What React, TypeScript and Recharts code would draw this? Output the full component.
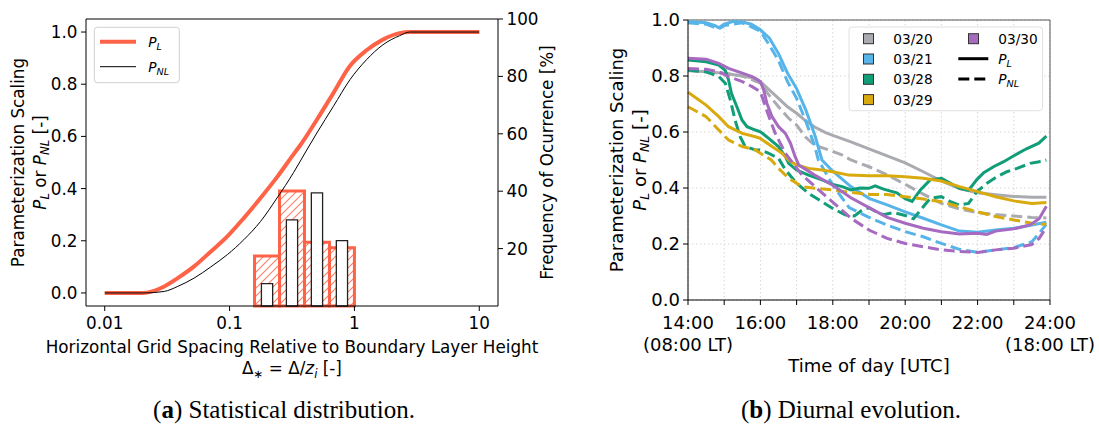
import React from "react";
import {
  ComposedChart,
  LineChart,
  Line,
  XAxis,
  YAxis,
  ReferenceArea,
  ReferenceLine,
  CartesianGrid,
} from "recharts";

// ---------- panel (a): scaling vs. normalised grid spacing ----------
const deltaStar = [0.01, 0.02, 0.03, 0.0384, 0.052, 0.0708, 0.096, 0.13, 0.177, 0.24, 0.326, 0.368, 0.5, 0.678, 0.92, 1.25, 1.69, 2.3, 2.77, 10];
const pLinear = [0, 0, 0.025, 0.057, 0.102, 0.159, 0.217, 0.287, 0.364, 0.444, 0.532, 0.566, 0.664, 0.766, 0.87, 0.93, 0.971, 0.996, 1, 1];
const pNonLinear = [0, 0, 0.006, 0.025, 0.057, 0.1, 0.147, 0.204, 0.274, 0.364, 0.462, 0.505, 0.613, 0.715, 0.817, 0.894, 0.951, 0.986, 1, 1];

// histogram, log bins (5 per decade)
const binEdges = [0.1585, 0.2512, 0.3981, 0.631, 1.0];
const freqL = [17.4, 40.1, 22.2, 20.3];
const freqNL = [7.8, 30.0, 39.4, 22.8];

const xTicksA = [0.01, 0.1, 1, 10];
const yTicksA = [0, 0.2, 0.4, 0.6, 0.8, 1.0];
const freqTicks = [20, 40, 60, 80, 100];

// ---------- panel (b): diurnal evolution ----------
const hourTicks = [14, 15, 16, 17, 18, 19, 20, 21, 22, 23, 24];
const yTicksB = [0, 0.2, 0.4, 0.6, 0.8, 1.0];

const t20L = [14, 14.5, 15, 15.5, 15.85, 16, 16.25, 16.5, 16.75, 17, 17.25, 17.5, 17.8, 18, 18.5, 19, 19.5, 20, 20.5, 21, 21.5, 22, 22.5, 23, 23.5, 23.9];
const p20L = [0.82, 0.815, 0.81, 0.8, 0.792, 0.78, 0.75, 0.72, 0.69, 0.667, 0.64, 0.618, 0.598, 0.588, 0.565, 0.54, 0.515, 0.49, 0.458, 0.425, 0.398, 0.383, 0.376, 0.37, 0.367, 0.367];
const t20NL = [14, 14.5, 15, 15.5, 16, 16.25, 16.5, 16.78, 17, 17.24, 17.5, 17.8, 18.25, 18.5, 19, 19.5, 20, 20.5, 21, 21.5, 22, 22.5, 23, 23.5, 23.9];
const p20NL = [0.82, 0.815, 0.81, 0.8, 0.775, 0.73, 0.69, 0.649, 0.625, 0.583, 0.552, 0.54, 0.518, 0.5, 0.476, 0.447, 0.413, 0.378, 0.345, 0.325, 0.312, 0.305, 0.3, 0.295, 0.293];

const t21L = [14, 14.5, 14.75, 14.85, 15, 15.25, 15.5, 15.75, 16, 16.25, 16.5, 16.75, 17, 17.25, 17.5, 17.7, 18, 18.5, 19, 19.5, 20, 20.5, 21, 21.5, 22, 22.5, 23, 23.5, 23.9];
const p21L = [0.995, 0.99, 0.98, 0.972, 0.985, 0.995, 0.993, 0.985, 0.965, 0.935, 0.88, 0.81, 0.755, 0.68, 0.59, 0.5, 0.46, 0.405, 0.363, 0.34, 0.315, 0.292, 0.268, 0.246, 0.242, 0.25, 0.256, 0.268, 0.278];
const t21NL = [14, 14.5, 14.85, 15, 15.5, 16, 16.25, 16.5, 16.75, 17, 17.25, 17.5, 17.6, 18, 18.45, 19, 19.5, 20, 20.5, 21, 21.5, 22, 22.5, 23, 23.5, 23.9];
const p21NL = [0.99, 0.985, 0.968, 0.98, 0.99, 0.96, 0.91, 0.855, 0.78, 0.72, 0.64, 0.55, 0.5, 0.41, 0.33, 0.295, 0.268, 0.244, 0.226, 0.202, 0.181, 0.17, 0.179, 0.187, 0.208, 0.27];

const t28L = [14, 14.5, 14.85, 15.03, 15.12, 15.2, 15.35, 15.49, 15.63, 15.86, 16, 16.23, 16.5, 16.69, 16.78, 17, 17.33, 17.7, 18, 18.26, 18.5, 18.75, 19, 19.17, 19.4, 19.77, 20, 20.19, 20.42, 20.69, 21, 21.25, 21.5, 21.75, 21.98, 22.17, 22.44, 22.72, 23, 23.35, 23.69, 23.9];
const p28L = [0.857, 0.851, 0.839, 0.82, 0.786, 0.738, 0.69, 0.643, 0.619, 0.607, 0.601, 0.577, 0.548, 0.512, 0.488, 0.464, 0.446, 0.429, 0.413, 0.405, 0.393, 0.4, 0.399, 0.408, 0.396, 0.383, 0.362, 0.352, 0.393, 0.429, 0.435, 0.417, 0.399, 0.392, 0.43, 0.455, 0.476, 0.494, 0.515, 0.54, 0.56, 0.585];
const t28NL = [14, 14.5, 14.85, 15.03, 15.17, 15.3, 15.44, 15.58, 15.86, 16, 16.23, 16.5, 16.69, 17, 17.33, 17.7, 18, 18.34, 18.6, 18.8, 19, 19.2, 19.4, 19.68, 20, 20.23, 20.42, 20.69, 21, 21.25, 21.5, 21.75, 21.98, 22.26, 22.53, 22.81, 23.09, 23.45, 23.7, 23.9];
const p28NL = [0.821, 0.815, 0.798, 0.774, 0.714, 0.643, 0.583, 0.548, 0.536, 0.536, 0.524, 0.506, 0.465, 0.417, 0.381, 0.351, 0.327, 0.304, 0.3, 0.32, 0.33, 0.315, 0.305, 0.312, 0.302, 0.29, 0.321, 0.363, 0.369, 0.351, 0.339, 0.345, 0.387, 0.417, 0.44, 0.458, 0.47, 0.488, 0.494, 0.5];

const t29L = [14, 14.5, 14.85, 15.12, 15.5, 15.86, 16, 16.32, 16.6, 16.78, 17, 17.33, 17.7, 18, 18.44, 19, 19.5, 20, 20.5, 21, 21.5, 22, 22.5, 23, 23.5, 23.9];
const p29L = [0.742, 0.696, 0.655, 0.619, 0.595, 0.583, 0.577, 0.548, 0.524, 0.5, 0.482, 0.47, 0.464, 0.458, 0.446, 0.444, 0.444, 0.44, 0.435, 0.425, 0.405, 0.387, 0.369, 0.354, 0.345, 0.348];
const t29NL = [14, 14.5, 14.85, 15.12, 15.5, 15.86, 16, 16.3, 16.5, 16.78, 17.15, 17.5, 18, 18.44, 19, 19.5, 20, 20.5, 21, 21.5, 22, 22.5, 23, 23.5, 23.9];
const p29NL = [0.69, 0.655, 0.607, 0.571, 0.548, 0.536, 0.524, 0.5, 0.47, 0.435, 0.405, 0.399, 0.393, 0.385, 0.377, 0.377, 0.369, 0.361, 0.351, 0.333, 0.315, 0.298, 0.286, 0.274, 0.27];

const t30L = [14, 14.5, 14.85, 15.12, 15.5, 15.77, 16, 16.09, 16.18, 16.32, 16.5, 16.69, 16.83, 16.96, 17.06, 17.5, 18, 18.5, 19, 19.5, 20, 20.5, 21, 21.5, 22, 22.25, 22.5, 23, 23.45, 23.7, 23.9];
const p30L = [0.863, 0.86, 0.845, 0.827, 0.81, 0.798, 0.78, 0.75, 0.702, 0.655, 0.619, 0.595, 0.56, 0.512, 0.482, 0.446, 0.41, 0.365, 0.33, 0.295, 0.274, 0.256, 0.244, 0.236, 0.238, 0.234, 0.246, 0.254, 0.268, 0.29, 0.335];
const t30NL = [14, 14.5, 14.85, 15.12, 15.5, 15.77, 16, 16.14, 16.27, 16.41, 16.55, 16.69, 16.83, 17.15, 17.51, 17.88, 18.25, 18.5, 19, 19.5, 20, 20.5, 21, 21.5, 22, 22.5, 23, 23.5, 23.7, 23.9];
const p30NL = [0.827, 0.824, 0.815, 0.798, 0.78, 0.762, 0.744, 0.69, 0.643, 0.595, 0.56, 0.524, 0.5, 0.446, 0.405, 0.363, 0.321, 0.292, 0.25, 0.22, 0.202, 0.19, 0.179, 0.173, 0.17, 0.179, 0.185, 0.198, 0.22, 0.26];

const days = [
  { label: "03/20", color: "#a9abb1", tL: t20L, pL: p20L, tNL: t20NL, pNL: p20NL },
  { label: "03/21", color: "#56b4e9", tL: t21L, pL: p21L, tNL: t21NL, pNL: p21NL },
  { label: "03/28", color: "#109d78", tL: t28L, pL: p28L, tNL: t28NL, pNL: p28NL },
  { label: "03/29", color: "#d9aa0e", tL: t29L, pL: p29L, tNL: t29NL, pNL: p29NL },
  { label: "03/30", color: "#a66bc0", tL: t30L, pL: p30L, tNL: t30NL, pNL: p30NL },
];

const RED = "#ff6347";
const FONT = "DejaVu Sans";

const curveData = deltaStar.map((x, i) => ({ x, pl: pLinear[i], pnl: pNonLinear[i] }));
const toPts = (t: number[], v: number[]) => t.map((h, i) => ({ t: h, v: v[i] }));

// white bars sit in the middle of each log bin, 45% of its width
const bins = freqL.map((f, i) => {
  const lo = Math.log10(binEdges[i]);
  const hi = Math.log10(binEdges[i + 1]);
  const mid = (lo + hi) / 2;
  const half = (hi - lo) * 0.225;
  return { x1: binEdges[i], x2: binEdges[i + 1], fL: f, n1: 10 ** (mid - half), n2: 10 ** (mid + half), fNL: freqNL[i] };
});
// bin tops, keeps the frequency axis tied to real data
const freqPts = bins.map((b) => ({ x: Math.sqrt(b.x1 * b.x2), f: b.fL }));

const HourTick = (props: any) => {
  const { x, y, payload } = props;
  const h = payload.value;
  if (h % 2 !== 0) return <g />;
  const lt = h === 14 ? "(08:00 LT)" : h === 24 ? "(18:00 LT)" : null;
  return (
    <g fontFamily={FONT} fontSize={18} fill="#000">
      <text x={x} y={y + 24} textAnchor="middle">{`${h}:00`}</text>
      {lt && <text x={x} y={y + 45.5} textAnchor="middle">{lt}</text>}
    </g>
  );
};

function PanelA() {
  const tick = { fontSize: 16.8, fill: "#000", fontFamily: FONT };
  return (
    <ComposedChart width={560} height={431} data={curveData} margin={{ top: 19, right: 0, bottom: 0, left: 0 }}>
      <defs>
        <pattern id="hatchRed" patternUnits="userSpaceOnUse" width="8" height="8">
          <rect width="8" height="8" fill="#ffffff" fillOpacity="0" />
          <path d="M-2,2 L2,-2 M0,8 L8,0 M6,10 L10,6" fill="none" stroke="#ff7f66" strokeWidth="1.1" />
        </pattern>
      </defs>
      <XAxis
        dataKey="x"
        type="number"
        scale="log"
        domain={[10 ** -2.15, 10 ** 1.15]}
        allowDataOverflow
        ticks={xTicksA}
        tickFormatter={(v) => String(v)}
        height={125}
        tickSize={5}
        tickMargin={6}
        tick={tick}
        stroke="#000"
      />
      <YAxis yAxisId="left" domain={[-0.05, 1.05]} ticks={yTicksA} tickFormatter={(v) => v.toFixed(1)} width={86} tickSize={5} tickMargin={3.5} tick={tick} stroke="#000" />
      <YAxis yAxisId="right" orientation="right" domain={[0, 100]} allowDataOverflow ticks={freqTicks} width={62} tickSize={5} tickMargin={3.5} tick={tick} stroke="#000" />
      <ReferenceLine yAxisId="left" y={1.05} stroke="#000" ifOverflow="visible" />
      <Line yAxisId="right" data={freqPts} dataKey="f" stroke="none" dot={false} activeDot={false} isAnimationActive={false} />
      {bins.map((b, i) => (
        <ReferenceArea key={"r" + i} yAxisId="right" x1={b.x1} x2={b.x2} y1={0} y2={b.fL} fill="url(#hatchRed)" fillOpacity={1} stroke={RED} strokeWidth={3} ifOverflow="visible" />
      ))}
      {bins.map((b, i) => (
        <ReferenceArea key={"w" + i} yAxisId="right" x1={b.n1} x2={b.n2} y1={0} y2={b.fNL} fill="#fff" fillOpacity={1} stroke="#222" strokeWidth={1.3} ifOverflow="visible" />
      ))}
      <Line yAxisId="left" dataKey="pl" type="monotone" stroke={RED} strokeWidth={4} dot={false} isAnimationActive={false} />
      <Line yAxisId="left" dataKey="pnl" type="monotone" stroke="#000" strokeWidth={1} dot={false} isAnimationActive={false} />
    </ComposedChart>
  );
}

function PanelB() {
  const tick = { fontSize: 18, fill: "#000", fontFamily: FONT };
  return (
    <LineChart width={539} height={431} margin={{ top: 20, right: 49, bottom: 0, left: 0 }}>
      <CartesianGrid stroke="#d6d6d6" strokeDasharray="1.5 2.5" />
      <XAxis dataKey="t" type="number" domain={[14, 24]} ticks={hourTicks} height={131} tickSize={5} tickMargin={0} tick={<HourTick />} stroke="#000" />
      <YAxis domain={[0, 1]} ticks={yTicksB} tickFormatter={(v) => v.toFixed(1)} width={128} tickSize={5} tickMargin={3} tick={tick} stroke="#000" />
      <ReferenceLine y={1} stroke="#555" ifOverflow="visible" />
      <ReferenceLine x={24} stroke="#555" ifOverflow="visible" />
      {days.flatMap((d) => [
        <Line key={d.label + "L"} data={toPts(d.tL, d.pL)} dataKey="v" type="linear" stroke={d.color} strokeWidth={3} dot={false} isAnimationActive={false} />,
        <Line key={d.label + "NL"} data={toPts(d.tNL, d.pNL)} dataKey="v" type="linear" stroke={d.color} strokeWidth={3} strokeDasharray="11 5" dot={false} isAnimationActive={false} />,
      ])}
    </LineChart>
  );
}

// rich text: italic and subscript pieces with baseline reset
type Seg = { t: string; it?: boolean; sub?: boolean };
const Rich = ({ segs, size }: { segs: Seg[]; size: number }) => {
  let level = 0;
  return (
    <>
      {segs.map((s, i) => {
        const target = s.sub ? 1 : 0;
        const dy = (target - level) * size * 0.22;
        level = target;
        return (
          <tspan key={i} fontStyle={s.it ? "italic" : undefined} fontSize={s.sub ? size * 0.7 : undefined} dy={dy || undefined}>
            {s.t}
          </tspan>
        );
      })}
    </>
  );
};

const plSegs: Seg[] = [{ t: "P", it: true }, { t: "L", it: true, sub: true }];
const pnlSegs: Seg[] = [{ t: "P", it: true }, { t: "NL", it: true, sub: true }];
const orSegs: Seg[] = [...plSegs, { t: " or " }, ...pnlSegs, { t: " [-]" }];
const deltaSegs: Seg[] = [{ t: "Δ" }, { t: "∗", sub: true }, { t: " = Δ/" }, { t: "z", it: true }, { t: "i", it: true, sub: true }, { t: " [-]" }];

function Overlay() {
  const la = 16.8;
  const lb = 18;
  const lg = 13.7;
  return (
    <svg width={1099} height={431} style={{ position: "absolute", left: 0, top: 0, pointerEvents: "none" }} fontFamily={FONT} fill="#000">
      {/* panel (a) titles */}
      <g transform="translate(23.6,162.5) rotate(-90)" fontSize={la} textAnchor="middle">
        <text x={0} y={0}>Parameterization Scaling</text>
        <text x={0} y={22}><Rich segs={orSegs} size={la} /></text>
      </g>
      <text transform="translate(552.8,162.5) rotate(-90)" fontSize={la} textAnchor="middle">Frequency of Ocurrence [%]</text>
      <text x={292} y={352.8} fontSize={la} textAnchor="middle">Horizontal Grid Spacing Relative to Boundary Layer Height</text>
      <text x={292} y={374} fontSize={la} textAnchor="middle"><Rich segs={deltaSegs} size={la} /></text>

      {/* panel (a) legend */}
      <rect x={94.3} y={27.3} width={85} height={55.4} rx={3} fill="#fff" fillOpacity={0.85} stroke="#d0d0d0" />
      <line x1={100} x2={136} y1={41.7} y2={41.7} stroke={RED} strokeWidth={4} />
      <line x1={100} x2={136} y1={66.7} y2={66.7} stroke="#000" strokeWidth={1} />
      <text x={148.3} y={46.7} fontSize={lg}><Rich segs={plSegs} size={lg} /></text>
      <text x={148.3} y={71.7} fontSize={lg}><Rich segs={pnlSegs} size={lg} /></text>

      {/* panel (b) titles */}
      <g transform="translate(623,160) rotate(-90)" fontSize={lb} textAnchor="middle">
        <text x={0} y={0}>Parameterization Scaling</text>
        <text x={0} y={22.5}><Rich segs={orSegs} size={lb} /></text>
      </g>
      <text x={869} y={372.2} fontSize={lb} textAnchor="middle">Time of day [UTC]</text>

      {/* panel (b) legend */}
      <rect x={849} y={27} width={193.5} height={83.7} rx={3} fill="#fff" fillOpacity={0.85} stroke="#e0e0e0" />
      {days.slice(0, 4).map((d, i) => (
        <g key={d.label}>
          <rect x={863.5} y={33.7 + i * 20.3} width={10} height={10} fill={d.color} stroke="#333" strokeWidth={1} />
          <text x={893.3} y={43.7 + i * 20.3} fontSize={lg}>{d.label}</text>
        </g>
      ))}
      <rect x={968.5} y={33.7} width={10} height={10} fill={days[4].color} stroke="#333" strokeWidth={1} />
      <text x={998.3} y={43.7} fontSize={lg}>{days[4].label}</text>
      <line x1={958.3} x2={988.3} y1={58.7} y2={58.7} stroke="#000" strokeWidth={3} />
      <line x1={958.3} x2={988.3} y1={79} y2={79} stroke="#000" strokeWidth={3} strokeDasharray="11 5" />
      <text x={998.3} y={63.7} fontSize={lg}><Rich segs={plSegs} size={lg} /></text>
      <text x={998.3} y={84} fontSize={lg}><Rich segs={pnlSegs} size={lg} /></text>

      {/* captions */}
      <text x={284} y={418} fontSize={25} fontFamily="Liberation Serif" textAnchor="middle">
        (<tspan fontWeight="bold">a</tspan>) Statistical distribution.
      </text>
      <text x={851} y={418} fontSize={25} fontFamily="Liberation Serif" textAnchor="middle">
        (<tspan fontWeight="bold">b</tspan>) Diurnal evolution.
      </text>
    </svg>
  );
}

export default function App() {
  return (
    <div style={{ position: "fixed", left: 0, top: 0, width: 1099, height: 431, background: "#fff", fontFamily: FONT }}>
      <div style={{ position: "absolute", left: 0, top: 0 }}>
        <PanelA />
      </div>
      <div style={{ position: "absolute", left: 560, top: 0 }}>
        <PanelB />
      </div>
      <Overlay />
    </div>
  );
}
